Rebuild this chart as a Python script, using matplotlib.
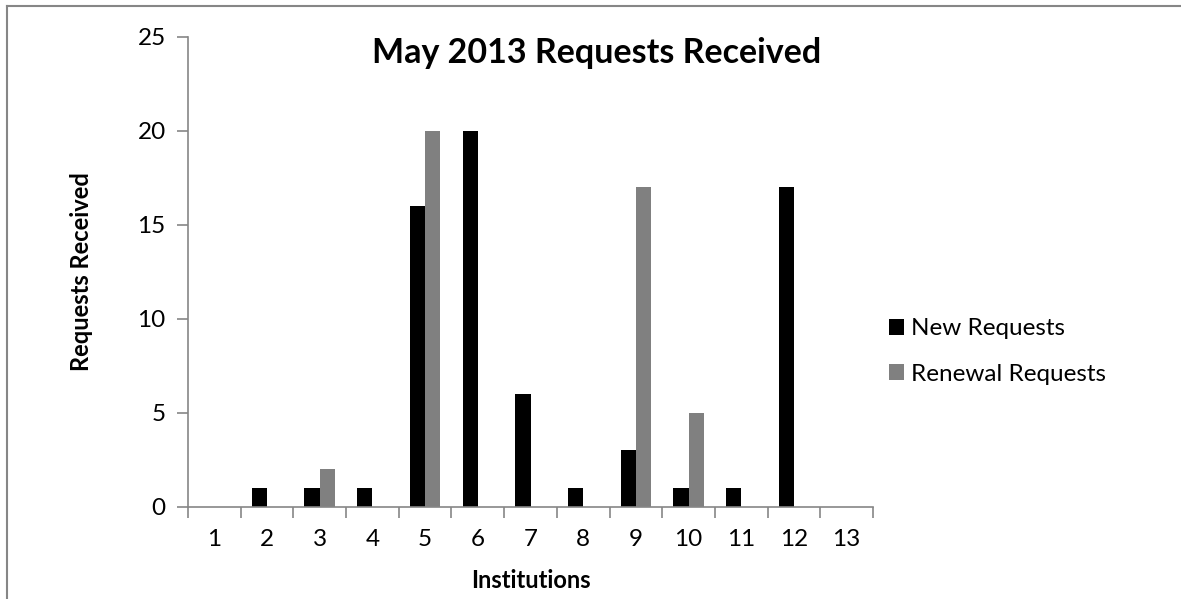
import numpy as np
import matplotlib.pyplot as plt
from matplotlib.lines import Line2D

institutions = [str(i) for i in range(1, 14)]
new_requests = [0, 1, 1, 1, 16, 20, 6, 1, 3, 1, 1, 17, 0]
renewal_requests = [0, 0, 2, 0, 20, 0, 0, 0, 17, 5, 0, 0, 0]

plt.rcParams['font.family'] = ['Lato', 'DejaVu Sans']

fig = plt.figure(figsize=(11.81, 5.99), dpi=100)
ax = fig.add_axes([0.1592, 0.1541, 0.58, 0.7846])

x = np.arange(len(institutions))
w = 0.29
ax.bar(x - w / 2, new_requests, w, color='black', label='New Requests')
ax.bar(x + w / 2, renewal_requests, w, color='#808080', label='Renewal Requests')

axis_col = '#868686'
ax.set_xlim(-0.5, len(institutions) - 0.5)
ax.set_ylim(0, 25)
ax.set_yticks([0, 5, 10, 15, 20, 25])
ax.set_xticks(x)
ax.set_xticklabels(institutions)
# category boundary ticks like excel
ax.set_xticks(np.arange(len(institutions) + 1) - 0.5, minor=True)
ax.tick_params(axis='x', which='major', length=0, pad=16, labelsize=17.5)
ax.tick_params(axis='x', which='minor', length=8, color=axis_col, width=1.2, direction='out')
ax.tick_params(axis='y', length=8, color=axis_col, width=1.2, pad=8, labelsize=17.5)
for s in ['top', 'right']:
    ax.spines[s].set_visible(False)
for s in ['left', 'bottom']:
    ax.spines[s].set_color(axis_col)
    ax.spines[s].set_linewidth(1.2)

ax.set_xlabel('Institutions', fontsize=17, fontweight='bold', labelpad=14)
ax.set_ylabel('Requests Received', fontsize=17, fontweight='bold', labelpad=32)
fig.text(0.505, 0.912, 'May 2013 Requests Received', ha='center', va='center',
         fontsize=24.5, fontweight='bold')

ax.legend(loc='center left', bbox_to_anchor=(0.992, 0.33), frameon=False,
          fontsize=17.5, handlelength=0.62, handleheight=0.62, handletextpad=0.25,
          labelspacing=1.0)

# outer chart frame (cropped)
fig.add_artist(Line2D([7 / 1181, 7 / 1181], [0, 1 - 6 / 599], color=axis_col, lw=1.5))
fig.add_artist(Line2D([7 / 1181, 1], [1 - 6 / 599, 1 - 6 / 599], color=axis_col, lw=1.5))

fig.savefig('out.png', dpi=100)
